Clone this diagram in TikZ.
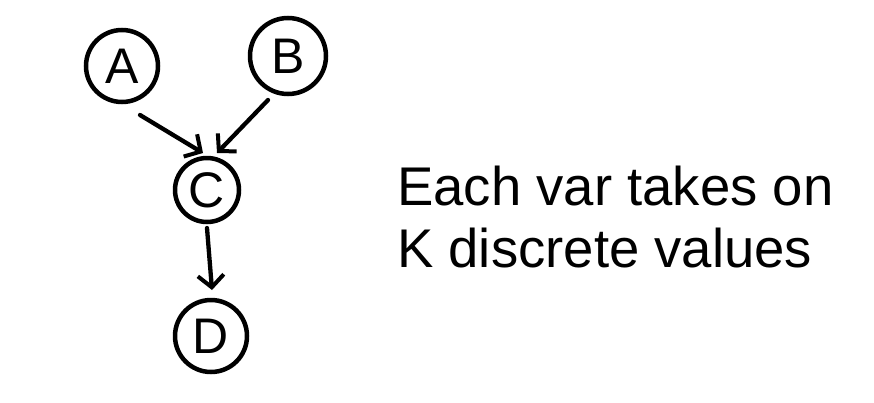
\documentclass[tikz,border=0pt]{standalone}
\usepackage{fontspec}
\setmainfont{Liberation Sans}
\usetikzlibrary{arrows.meta}
\begin{document}
\begin{tikzpicture}[x=1pt,y=-1pt,
  var/.style={circle,draw=black,line width=4.5pt,inner sep=0pt,font=\fontsize{50}{50}\selectfont},
  link/.style={line width=4.3pt,line cap=round,-{Straight Barb[length=12pt,width=26pt,line width=4pt]}},
  txt/.style={anchor=base west,inner sep=0pt,font=\fontsize{54.5}{60}\selectfont}]
\useasboundingbox[fill=white] (0,0) rectangle (874,402);
\node[var,minimum size=72pt] (A) at (122,66) {A};
\node[var,minimum size=76pt] (B) at (288,56) {B};
\node[var,minimum size=64pt] (C) at (207,190) {C};
\node[var,minimum size=72pt] (D) at (211,336) {D};
\draw[link] ([shift={(18,49)}]A.center) -- ([shift={(-4,-37)}]C.center);
\draw[link] ([shift={(-20,44)}]B.center) -- ([shift={(10,-37)}]C.center);
\draw[link] ([shift={(0,38)}]C.center) -- ([shift={(1,-46)}]D.center);
\node[txt] (t1) at (397,205) {Each var takes on};
\node[txt] (t2) at (397,267) {K discrete values};
\end{tikzpicture}
\end{document}
